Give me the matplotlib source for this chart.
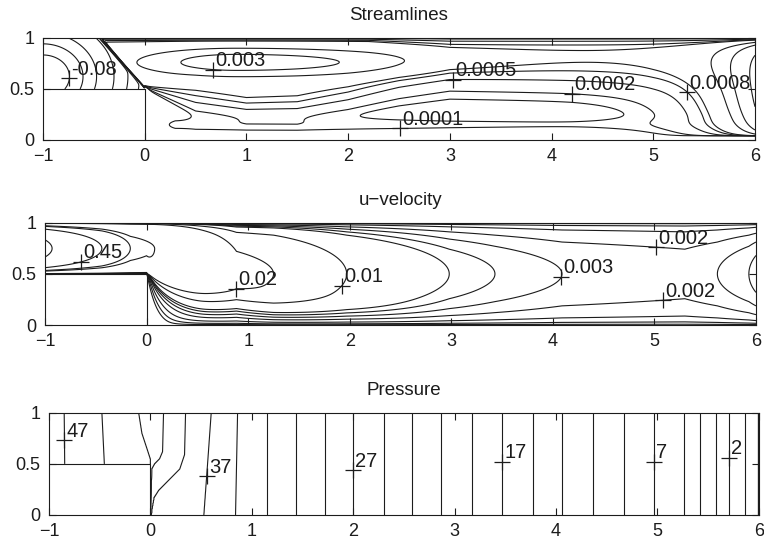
import numpy as np
import matplotlib
matplotlib.use("Agg")
import matplotlib.pyplot as plt

plt.rcParams["font.family"] = ["Liberation Sans", "DejaVu Sans"]

# ---------------------------------------------------------------- domain
x_min, x_max = -1.0, 6.0
step_len, step_h = 1.0, 0.5
x_ticks = [-1, 0, 1, 2, 3, 4, 5, 6]
y_ticks = [0, 0.5, 1]
y_tick_labels = ["0", "0.5", "1"]

# ---------------------------------------------------------------- streamlines
psi_levels = [-0.1, -0.08, -0.06, -0.04, -0.02, -0.01, -0.005,
              0.0001, 0.0002, 0.0005, 0.0008, 0.001, 0.002, 0.003, 0.005]
psi_plateau = 0.0012            # stream function above the shear layer
# shear layer leaving the step corner: centre height and thickness
shear_x = [0.0, 0.5, 1.0, 1.5, 2.0, 2.5, 3.0, 4.2, 5.0, 6.0]
shear_mid = [0.52, 0.39, 0.32, 0.33, 0.42, 0.55, 0.64, 0.62, 0.60, 0.60]
shear_w = [0.01, 0.13, 0.12, 0.13, 0.15, 0.18, 0.20, 0.20, 0.21, 0.22]
# recirculating eddy under the top wall
eddy_peak, eddy_x, eddy_y = 0.0026, 0.9, 0.76
# layer thickness along the top wall
top_x = [-0.45, 2.2, 3.0, 6.0]
top_thick = [0.025, 0.025, 0.06, 0.06]
# thin tongue near the bottom wall
tongue_x = [0.05, 0.3, 2.5, 4.6, 6.0]
tongue_amp = [0.0, 0.00013, 0.00012, 0.000085, 0.00005]
# outflow bulge at the exit
exit_peak, exit_len = 0.0053, 0.29
psi_labels = [(-0.79, 0.61, -0.08, "-0.08"), (0.67, 0.68, 0.003, "0.003"),
              (3.03, 0.65, 0.0005, "0.0005"), (4.2, 0.46, 0.0002, "0.0002"),
              (2.51, 0.13, 0.0001, "0.0001"), (5.37, 0.51, 0.0008, "0.0008")]

# ---------------------------------------------------------------- u-velocity
u_levels = [0.0001, 0.0004, 0.001, 0.002, 0.003, 0.004, 0.005, 0.01, 0.02,
            0.2, 0.25, 0.45, 0.9]
u_center_x = [-1.0, -0.93, -0.44, -0.16, 0.08, 0.885, 1.25, 1.97, 2.98, 3.43,
              4.09, 5.3, 5.62, 5.93, 6.0]
u_center = [1.0, 0.9, 0.45, 0.25, 0.2, 0.024, 0.02, 0.01, 0.005, 0.004,
            0.003, 0.0025, 0.003, 0.004, 0.0045]
u_labels = [(-0.66, 0.67, 0.45, "0.45"), (0.885, 0.41, 0.02, "0.02"),
            (1.87, 0.43, 0.01, "0.01"), (4.09, 0.47, 0.003, "0.003"),
            (5.01, 0.72, 0.002, "0.002"), (5.08, 0.28, 0.002, "0.002")]

# ---------------------------------------------------------------- pressure
p_levels = [47, 45, 43, 41, 39, 37, 35, 33, 31, 29, 27, 25, 23, 21, 19, 17,
            15, 13, 11, 9, 7, 5, 4, 3, 2, 1, 0, -0.03, -0.06]
p_x_top = [-0.85, -0.478, -0.115, 0.13, 0.347, 0.60, 0.86, 1.15, 1.44, 1.72,
           2.0, 2.3, 2.58, 2.87, 3.17, 3.47, 3.77, 4.06, 4.37, 4.67, 4.97,
           5.26, 5.42, 5.58, 5.71, 5.86, 5.99, 5.993, 5.996]
p_x_bottom = [-0.84, -0.43, -0.005, 0.004, 0.008, 0.528, 0.84, 1.15, 1.44,
              1.72, 2.0, 2.3, 2.58, 2.87, 3.17, 3.47, 3.77, 4.06, 4.37, 4.67,
              4.97, 5.26, 5.42, 5.58, 5.71, 5.86, 5.99, 5.993, 5.996]
# isobars bending round the step corner: (height, position) pairs
p43_y = [0.0, 0.49, 0.5, 0.55, 0.65, 0.8, 1.0]
p43_x = [-0.005, -0.005, 0.0, 0.0, -0.033, -0.083, -0.115]
p41_y = [0.0, 0.45, 0.5, 0.55, 0.62, 1.0]
p41_x = [0.004, 0.012, 0.04, 0.09, 0.12, 0.13]
p39_y = [0.0, 0.06, 0.17, 0.24, 0.3, 0.37, 0.45, 0.59, 1.0]
p39_x = [0.008, 0.015, 0.035, 0.08, 0.14, 0.21, 0.29, 0.337, 0.347]
p_labels = [(-0.855, 0.73, 47, "47"), (0.555, 0.38, 37, "37"),
            (2.0, 0.44, 27, "27"), (3.47, 0.52, 17, "17"),
            (4.96, 0.52, 7, "7"), (5.71, 0.56, 2, "2")]

# ---------------------------------------------------------------- grid
xg = np.linspace(x_min, x_max, 1401)
yg = np.linspace(0.0, 1.0, 401)
X, Y = np.meshgrid(xg, yg)
in_step = (X < x_min + step_len) & (Y < step_h)


def smoothstep(t):
    t = np.clip(t, 0.0, 1.0)
    return t * t * (3 - 2 * t)


# ---- stream function
diag = 0.5 - X * (0.5 / 0.45)                  # separating line above the step
mid = np.where(X < 0, diag, np.interp(X, shear_x, shear_mid))
wid = np.where(X < 0, 0.012, np.interp(X, shear_x, shear_w))
layer = 0.5 * (1 + np.tanh((Y - mid) / wid))
dx = X - eddy_x
sx = np.where(dx < 0, 0.9, 1.7)
eddy = eddy_peak * np.exp(-(dx / sx) ** 2 - ((Y - eddy_y) / 0.13) ** 2)
ys = np.clip((Y - 0.04) / 0.96, 0, 1)
outflow = exit_peak * np.exp(-(x_max - X) / exit_len) * np.sin(np.pi * ys) ** 0.35
top_wall = 1 - np.exp(-(1 - Y) / np.interp(X, top_x, top_thick))
tongue = np.interp(X, tongue_x, tongue_amp) * np.exp(-((Y - 0.15) / 0.07) ** 2)
psi_down = (psi_plateau * layer + eddy * layer + outflow) * top_wall + tongue
psi_up = -0.1 * np.exp(-(((X + 1) / 0.55) ** 2 + ((Y - 0.62) / 0.45) ** 2))
psi_up *= (1 - layer) * 0.5 * (1 - np.tanh(X / 0.03))
PSI = np.ma.masked_where(in_step, psi_down + psi_up)

# ---- u-velocity
A = np.exp(np.interp(X, u_center_x, np.log(u_center)))
s = smoothstep((X - 0.05) / 0.55)
yc = 0.75 - 0.25 * s
floor_y = np.where(X < 0, 0.5, 0.5 * np.exp(-np.maximum(X, 0) / 0.1))
wu = 1 - yc
wl = yc - floor_y
G = np.where(Y >= yc, 1 - 0.85 * ((Y - yc) / wu) ** 2,
             1 - 0.85 * ((yc - Y) / wl) ** 2)
# slow fluid in the lee of the step
K = np.where((X > 0) & (Y < 0.5),
             1 - np.exp(-(X / (4.0 * (0.5 - Y) + 0.01)) ** 2), 1.0)
# distance to the nearest wall (top, step, bottom)
d_low = np.where(X < 0, Y - 0.5,
                 np.where(Y < 0.5, np.minimum(Y, X),
                          np.minimum(Y, np.hypot(X, Y - 0.5))))
d_wall = np.maximum(np.minimum(1 - Y, d_low), 0)
wall = 1 - np.exp(-d_wall / 0.03)
U = np.ma.masked_where(in_step, A * G * K * wall)

# ---- pressure
P = np.empty_like(X)
for j, yv in enumerate(yg):
    xs = [b + (a - b) * yv for a, b in zip(p_x_top, p_x_bottom)]
    xs[2] = np.interp(yv, p43_y, p43_x)
    xs[3] = np.interp(yv, p41_y, p41_x)
    xs[4] = np.interp(yv, p39_y, p39_x)
    P[j] = np.interp(xg, [x_min] + xs + [x_max], [48.0] + p_levels + [-0.1])
P = np.ma.masked_where(in_step, P)

# ---------------------------------------------------------------- figure
fig = plt.figure(figsize=(7.64, 5.49), dpi=100)
boxes = [[0.0563, 0.745, 0.932, 0.186],
         [0.0589, 0.408, 0.9306, 0.186],
         [0.0641, 0.062, 0.929, 0.186]]
titles = ["Streamlines", "u\u2212velocity", "Pressure"]
fields = [(PSI, psi_levels, psi_labels), (U, u_levels, u_labels),
          (P, p_levels, p_labels)]
ink = "#1c1c1c"

for box, title, (Z, levels, labels) in zip(boxes, titles, fields):
    ax = fig.add_axes(box)
    cs = ax.contour(X, Y, Z, levels=sorted(levels), colors=ink,
                    linewidths=0.8, linestyles="solid")
    ax.plot([x_min, x_min + step_len, x_min + step_len],
            [step_h, step_h, 0.0], color=ink, lw=0.8)
    for lx, ly, lev, txt in labels:
        k = list(cs.levels).index(lev)
        segs = [sg for sg in cs.allsegs[k] if len(sg)]
        pts = np.vstack(segs)
        i = np.argmin((pts[:, 0] - lx) ** 2 + (pts[:, 1] - ly) ** 2)
        px, py = pts[i]
        ax.plot(px, py, marker="+", ms=11, mew=0.9, color=ink)
        ax.annotate(txt, (px, py), xytext=(1.5, 2.5),
                    textcoords="offset points", ha="left", va="baseline",
                    fontsize=14.5, color=ink)
    ax.set_xlim(x_min, x_max)
    ax.set_ylim(0, 1)
    ax.set_xticks(x_ticks)
    ax.set_yticks(y_ticks)
    ax.set_yticklabels(y_tick_labels)
    ax.tick_params(direction="in", length=5, width=0.8, top=True, right=True,
                   labelsize=13, pad=6, colors=ink)
    for sp in ax.spines.values():
        sp.set_linewidth(0.8)
        sp.set_color(ink)
    ax.set_title(title, fontsize=13.5, pad=13, color=ink)

fig.savefig("out.png", dpi=100)
